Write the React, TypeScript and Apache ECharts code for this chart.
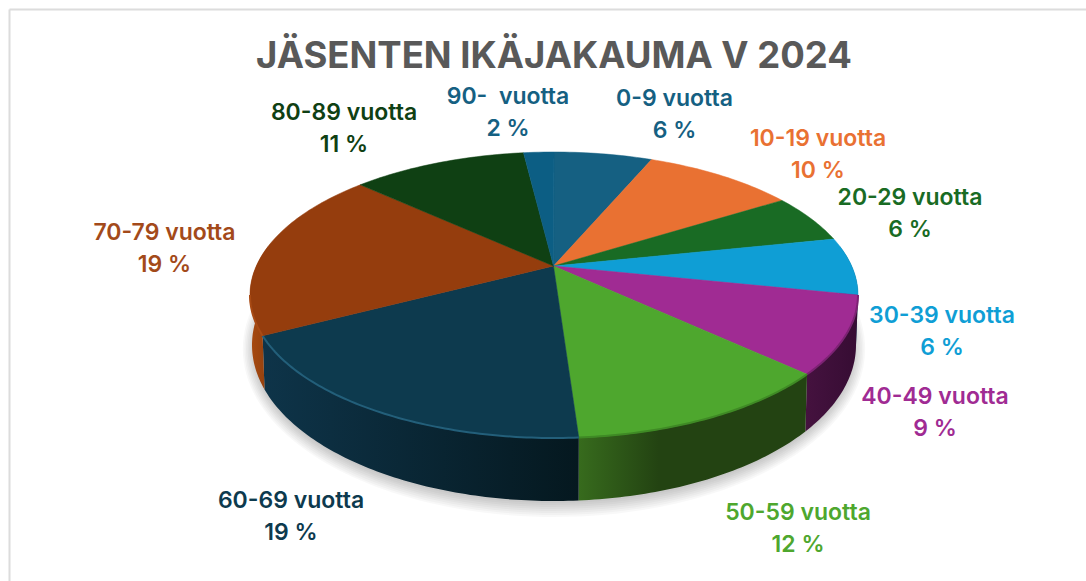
import React, { useEffect, useRef } from "react";
import * as echarts from "echarts";

const titleText = "JÄSENTEN IKÄJAKAUMA V 2024";
const categories = ["0-9 vuotta", "10-19 vuotta", "20-29 vuotta", "30-39 vuotta", "40-49 vuotta", "50-59 vuotta", "60-69 vuotta", "70-79 vuotta", "80-89 vuotta", "90-  vuotta"];
// printed percentages
const labelPercents = [6, 10, 6, 6, 9, 12, 19, 19, 11, 2];
// share of the drawn ellipse that each slice occupies
const drawnShares = [5.2, 8.3, 5.1, 6.4, 9.35, 14.35, 21.7, 18.6, 9.4, 1.6];

const topColors = ["#156082", "#E97132", "#196B24", "#0F9ED5", "#A02B93", "#4EA72E", "#0D3A4E", "#953D0D", "#0F4013", "#0C5E84"];
const labelColors = ["#156082", "#E97132", "#196B24", "#0F9ED5", "#A02B93", "#4EA72E", "#0D3A4E", "#A34A1A", "#0F4013", "#156082"];
const sideStops: string[][] = [
  ["#0b3245", "#0b3245"], ["#7a3a18", "#7a3a18"], ["#0d3812", "#0d3812"],
  ["#0a5f87", "#083f5c"], ["#45123f", "#360c33"], ["#376b1d", "#234312"],
  ["#0e3449", "#05181f"], ["#a84a10", "#8f3f0e"], ["#0d3812", "#0d3812"], ["#0b3245", "#0b3245"],
];
const rimColors = ["", "", "", "", "#7c2273", "#3f8a25", "#235f7a", "#a84a14", "", ""];
const labelAnchors = [[674.5, 113.5], [818, 154], [910, 213], [942, 331], [935, 412], [798, 527.5], [291, 516], [164.5, 248], [344, 127.5], [508, 112]];
const shadowSteps = [14, 12, 10, 8, 6, 4, 2, 0];

const APEX = { x: 553.5, y: 266 };
const TOP = { cx: 554, cy: 295, rx: 304, ry: 143 };
const BASE = { cx: 554, cy: 345, rx: 302, ry: 156 };

const onEllipse = (e: typeof TOP, deg: number) => {
  const r = (deg * Math.PI) / 180;
  return [e.cx + e.rx * Math.sin(r), e.cy - e.ry * Math.cos(r)];
};
const arc = (e: typeof TOP, a: number, b: number) => {
  const pts: number[][] = [];
  const n = Math.max(2, Math.ceil(Math.abs(b - a)));
  for (let i = 0; i <= n; i++) pts.push(onEllipse(e, a + ((b - a) * i) / n));
  return pts;
};

let running = 0;
const sliceRows = drawnShares.map((share, i) => {
  const start = running;
  running += share;
  return [i, start, running];
});
const range = (api: any) => {
  const total = running;
  return [(api.value(1) / total) * 360, (api.value(2) / total) * 360];
};

export default function App() {
  const ref = useRef<HTMLDivElement>(null);
  useEffect(() => {
    document.body.style.margin = "0";
    const chart = echarts.init(ref.current!, null, { renderer: "svg" });
    chart.setOption({
      animation: false,
      backgroundColor: "#ffffff",
      title: {
        text: titleText,
        left: 549,
        top: 31,
        textAlign: "center",
        textStyle: { fontFamily: "Inter", fontWeight: 700, fontSize: 36.5, color: "#595959" },
      },
      graphic: [
        { type: "line", shape: { x1: 9.5, y1: 9.5, x2: 1086, y2: 9.5 }, style: { stroke: "#dcdcdc", lineWidth: 2 } },
        { type: "line", shape: { x1: 9.5, y1: 9.5, x2: 9.5, y2: 581 }, style: { stroke: "#dcdcdc", lineWidth: 2 } },
      ],
      series: [
        {
          type: "custom",
          name: "shadow",
          coordinateSystem: "none",
          silent: true,
          data: shadowSteps.map((s) => [s]),
          renderItem: (_p: any, api: any) => {
            const grow = api.value(0);
            return {
              type: "ellipse",
              shape: { cx: BASE.cx, cy: BASE.cy + 4, rx: BASE.rx - 2 + grow * 0.8, ry: BASE.ry - 2 + grow },
              style: { fill: "rgba(0,0,0,0.028)" },
            };
          },
        },
        {
          type: "custom",
          name: "sides",
          coordinateSystem: "none",
          silent: true,
          data: sliceRows,
          renderItem: (_p: any, api: any) => {
            const [a, b] = range(api);
            const i = api.value(0);
            const from = Math.max(a, 70);
            const to = Math.min(b, 290);
            if (to <= from) return { type: "group", children: [] };
            const points = [...arc(TOP, from, to), ...arc(BASE, to, from)];
            const stops = sideStops[i];
            return {
              type: "polygon",
              shape: { points },
              style: {
                fill: {
                  type: "linear", x: 0, y: 0, x2: 1, y2: 0,
                  colorStops: [
                    { offset: 0, color: stops[0] },
                    { offset: i === 5 ? 0.35 : 1, color: stops[1] },
                    { offset: 1, color: stops[1] },
                  ],
                },
              },
            };
          },
        },
        {
          type: "custom",
          name: "tops",
          coordinateSystem: "none",
          silent: true,
          data: sliceRows,
          renderItem: (_p: any, api: any) => {
            const [a, b] = range(api);
            const i = api.value(0);
            const rim = rimColors[i];
            const children: any[] = [
              {
                type: "polygon",
                shape: { points: [[APEX.x, APEX.y], ...arc(TOP, a, b)] },
                style: { fill: topColors[i], stroke: topColors[i], lineWidth: 0.5 },
              },
            ];
            const ra = Math.max(a, 90);
            const rb = Math.min(b, 270);
            if (rim && rb > ra) {
              children.push({
                type: "polyline",
                shape: { points: arc(TOP, ra, rb) },
                style: { stroke: rim, lineWidth: 2, fill: "none" },
              });
            }
            return { type: "group", children };
          },
        },
        {
          type: "custom",
          name: "labels",
          coordinateSystem: "none",
          silent: true,
          data: categories.map((_c, i) => [i]),
          renderItem: (_p: any, api: any) => {
            const i = api.value(0);
            return {
              type: "text",
              x: labelAnchors[i][0],
              y: labelAnchors[i][1],
              style: {
                text: `${categories[i]}\n${labelPercents[i]} %`,
                fill: labelColors[i],
                fontFamily: "Inter",
                fontWeight: 600,
                fontSize: 23,
                lineHeight: 32,
                align: "center",
                verticalAlign: "middle",
              },
            };
          },
        },
      ],
    });
    return () => chart.dispose();
  }, []);
  return <div ref={ref} style={{ position: "fixed", left: 0, top: 0, width: 1086, height: 581 }} />;
}
